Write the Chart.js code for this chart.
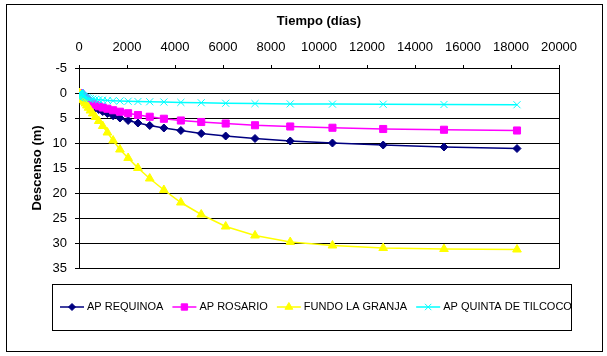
<!DOCTYPE html>
<html>
<head>
<meta charset="utf-8">
<title>Descenso vs tiempo</title>
<script src="https://cdn.jsdelivr.net/npm/chart.js@4"></script>
<style>
  html, body { margin: 0; padding: 0; background: #fff; }
  canvas { display: block; }
</style>
</head>
<body>
<canvas id="descensoChart" width="607" height="356"></canvas>
<script>
const tiempo = [10, 12, 15, 18, 21, 26, 31, 37, 44, 53, 64, 77, 92, 110, 133, 159, 191, 229, 275, 330,
  397, 476, 571, 685, 822, 987, 1184, 1421, 1706, 2047, 2456, 2947, 3537, 4244, 5093, 6112, 7334,
  8801, 10561, 12674, 15208, 18250];

const requinoa = [0, 0.01, 0.01, 0.02, 0.03, 0.04, 0.05, 0.07, 0.1, 0.14, 0.19, 0.25, 0.32, 0.42, 0.54,
  0.68, 0.85, 1.05, 1.3, 1.55, 1.85, 2.15, 2.5, 2.9, 3.3, 3.7, 4.1, 4.55, 5.0, 5.5, 6.0, 6.5, 7.0,
  7.5, 8.1, 8.6, 9.1, 9.6, 10.0, 10.4, 10.8, 11.1];

const rosario = [0.01, 0.01, 0.02, 0.03, 0.04, 0.06, 0.08, 0.1, 0.14, 0.19, 0.25, 0.32, 0.4, 0.5, 0.62,
  0.75, 0.9, 1.05, 1.25, 1.45, 1.65, 1.9, 2.15, 2.4, 2.65, 2.9, 3.15, 3.45, 3.75, 4.05, 4.4, 4.75,
  5.15, 5.5, 5.8, 6.1, 6.45, 6.7, 6.95, 7.2, 7.35, 7.5];

const granja = [0.04, 0.05, 0.07, 0.09, 0.11, 0.14, 0.18, 0.22, 0.28, 0.35, 0.44, 0.55, 0.68, 0.83, 1.0,
  1.2, 1.45, 1.75, 2.1, 2.5, 2.95, 3.5, 4.1, 4.8, 5.6, 6.6, 7.9, 9.5, 11.3, 13.0, 15.0, 17.1, 19.4,
  21.9, 24.3, 26.7, 28.5, 29.8, 30.5, 31.0, 31.2, 31.3];

const tilcoco = [0.02, 0.03, 0.04, 0.05, 0.06, 0.08, 0.1, 0.13, 0.16, 0.2, 0.25, 0.3, 0.37, 0.44, 0.52,
  0.6, 0.69, 0.78, 0.87, 0.96, 1.05, 1.13, 1.21, 1.28, 1.35, 1.42, 1.48, 1.54, 1.6, 1.65, 1.7, 1.75,
  1.8, 1.88, 1.95, 2.05, 2.12, 2.18, 2.22, 2.25, 2.3, 2.35];

const xTicks = [0, 2000, 4000, 6000, 8000, 10000, 12000, 14000, 16000, 18000, 20000];
const yTicks = [-5, 0, 5, 10, 15, 20, 25, 30, 35];

const FONT = "'Liberation Sans', Arial, sans-serif";

function serie(label, values, color, style, radius) {
  return {
    label: label,
    data: tiempo.map((t, i) => ({ x: t, y: values[i] })),
    borderColor: color,
    backgroundColor: color,
    borderWidth: 1.5,
    pointStyle: style,
    pointRadius: radius,
    pointBorderWidth: 1,
    pointBorderColor: color,
    pointBackgroundColor: color,
    tension: 0
  };
}

const datasets = [
  serie('AP REQUINOA', requinoa, '#000080', 'rectRot', 4),
  serie('AP ROSARIO', rosario, '#ff00ff', 'rect', 5),
  serie('FUNDO LA GRANJA', granja, '#ffff00', 'triangle', 5),
  serie('AP QUINTA DE TILCOCO', tilcoco, '#00ffff', 'crossRot', 5)
];
// la ultima serie queda encima, como en Excel
datasets.forEach((d, i) => { d.order = datasets.length - i; });

// marco exterior, borde del area de trazado y leyenda con recuadro
const marcoPlugin = {
  id: 'marco',
  beforeDraw(chart) {
    const ctx = chart.ctx;
    ctx.save();
    ctx.fillStyle = '#fff';
    ctx.fillRect(0, 0, chart.width, chart.height);
    ctx.strokeStyle = '#000';
    ctx.lineWidth = 1;
    ctx.strokeRect(6.5, 4.5, 596, 347);
    ctx.restore();
  },
  afterDatasetsDraw(chart) {
    const ctx = chart.ctx;
    const a = chart.chartArea;
    ctx.save();
    ctx.strokeStyle = '#000';
    ctx.lineWidth = 1;
    ctx.beginPath();
    ctx.moveTo(Math.round(a.right) + 0.5, a.top);
    ctx.lineTo(Math.round(a.right) + 0.5, Math.round(a.bottom) + 0.5);
    ctx.lineTo(a.left, Math.round(a.bottom) + 0.5);
    ctx.stroke();
    ctx.restore();
  },
  afterDraw(chart) {
    const ctx = chart.ctx;
    ctx.save();
    ctx.strokeStyle = '#000';
    ctx.lineWidth = 1;
    ctx.strokeRect(52.5, 284.5, 519, 46);
    ctx.font = '11px ' + FONT;
    ctx.textBaseline = 'middle';
    ctx.textAlign = 'left';
    const y = 307;
    let x = 60;
    chart.data.datasets.forEach(ds => {
      ctx.strokeStyle = ds.borderColor;
      ctx.lineWidth = ds.borderWidth;
      ctx.beginPath();
      ctx.moveTo(x, y);
      ctx.lineTo(x + 24, y);
      ctx.stroke();
      ctx.fillStyle = ds.pointBackgroundColor;
      ctx.strokeStyle = ds.pointBorderColor;
      ctx.lineWidth = ds.pointBorderWidth;
      Chart.helpers.drawPoint(ctx, { pointStyle: ds.pointStyle, radius: ds.pointRadius - 0.5, rotation: 0, borderWidth: 1 }, x + 12, y);
      ctx.fillStyle = '#000';
      ctx.fillText(ds.label, x + 27, y);
      x += 27 + ctx.measureText(ds.label).width + 9;
    });
    ctx.restore();
  }
};

const ctx = document.getElementById('descensoChart').getContext('2d');
new Chart(ctx, {
  type: 'line',
  data: { datasets: datasets },
  plugins: [marcoPlugin],
  options: {
    responsive: false,
    animation: false,
    devicePixelRatio: 1,
    layout: { padding: { left: 0, right: 48, top: 0, bottom: 88 } },
    plugins: {
      legend: { display: false },
      tooltip: { enabled: false }
    },
    scales: {
      x: {
        type: 'linear',
        position: 'top',
        min: 0,
        max: 20000,
        afterFit(scale) { scale.height = 68; },
        afterBuildTicks(scale) { scale.ticks = xTicks.map(v => ({ value: v })); },
        ticks: {
          autoSkip: false,
          maxRotation: 0,
          padding: 10,
          color: '#000',
          font: { family: FONT, size: 13 },
          callback: v => String(v)
        },
        grid: { drawOnChartArea: false, drawTicks: true, tickLength: 3, color: '#000' },
        border: { display: true, color: '#000', width: 1 },
        title: {
          display: true,
          text: 'Tiempo (días)',
          color: '#000',
          font: { family: FONT, size: 13, weight: 'bold' },
          padding: { top: 14, bottom: 0 }
        }
      },
      y: {
        reverse: true,
        min: -5,
        max: 35,
        afterFit(scale) { scale.width = 79; },
        afterBuildTicks(scale) { scale.ticks = yTicks.map(v => ({ value: v })); },
        ticks: {
          padding: 8,
          color: '#000',
          font: { family: FONT, size: 13 },
          callback: v => String(v)
        },
        grid: { color: '#000', tickLength: 4, lineWidth: 1 },
        border: { display: true, color: '#000', width: 1 },
        title: {
          display: true,
          text: 'Descenso (m)',
          color: '#000',
          font: { family: FONT, size: 13, weight: 'bold' },
          padding: { top: 30, bottom: 0 }
        }
      }
    }
  }
});
</script>
</body>
</html>
